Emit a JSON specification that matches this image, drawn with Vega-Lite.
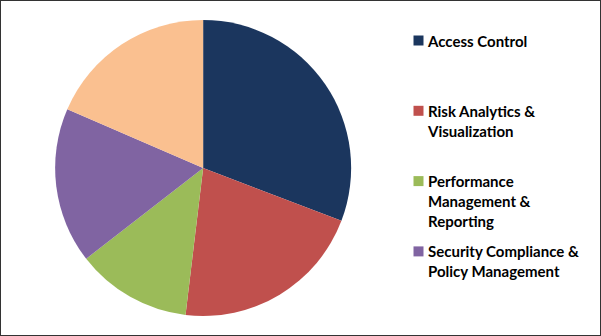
{
  "$schema": "https://vega.github.io/schema/vega-lite/v6.json",
  "width": 601,
  "height": 336,
  "autosize": {"type": "none"},
  "padding": 0,
  "background": "#ffffff",
  "view": {"stroke": "#333333", "strokeWidth": 2},
  "config": {"style": {"guide-label": {"lineHeight": 20}}},
  "data": {
    "values": [
      {"segment": "Access Control", "share": 30.8, "rank": 1},
      {"segment": "Risk Analytics & Visualization", "share": 21.1, "rank": 2},
      {"segment": "Performance Management & Reporting", "share": 12.6, "rank": 3},
      {"segment": "Security Compliance & Policy Management", "share": 17.0, "rank": 4},
      {"segment": "Others", "share": 18.5, "rank": 5}
    ]
  },
  "mark": {"type": "arc", "radius": 148, "x": {"expr": "width * 0.338"}, "y": {"expr": "height / 2"}, "stroke": null},
  "encoding": {
    "theta": {"field": "share", "type": "quantitative", "stack": true},
    "order": {"field": "rank", "type": "quantitative", "sort": "ascending"},
    "color": {
      "field": "segment",
      "type": "nominal",
      "scale": {
        "domain": ["Access Control", "Risk Analytics & Visualization", "Performance Management & Reporting", "Security Compliance & Policy Management", "Others"],
        "range": ["#1B365E", "#C0504D", "#9BBB59", "#8064A2", "#FAC090"]
      },
      "legend": {
        "values": ["Access Control", "Risk Analytics & Visualization", "Performance Management & Reporting", "Security Compliance & Policy Management"],
        "title": null,
        "orient": "none",
        "legendX": 411,
        "legendY": 27,
        "symbolType": "M-1,0.2H1V2.2H-1Z",
        "symbolSize": 100,
        "symbolStrokeWidth": 0,
        "labelFont": "Lato",
        "labelFontSize": 15,
        "labelFontWeight": "bold",
        "labelColor": "#000000",
        "labelLimit": 300,
        "labelLineHeight": 20,
        "labelBaseline": "top",
        "labelOffset": 2,
        "gridAlign": "all",
        "rowPadding": 7.3,
        "labelExpr": "datum.label == 'Risk Analytics & Visualization' ? ['Risk Analytics &', 'Visualization'] : datum.label == 'Performance Management & Reporting' ? ['Performance', 'Management &', 'Reporting'] : datum.label == 'Security Compliance & Policy Management' ? ['Security Compliance &', 'Policy Management'] : datum.label"
      }
    }
  }
}
